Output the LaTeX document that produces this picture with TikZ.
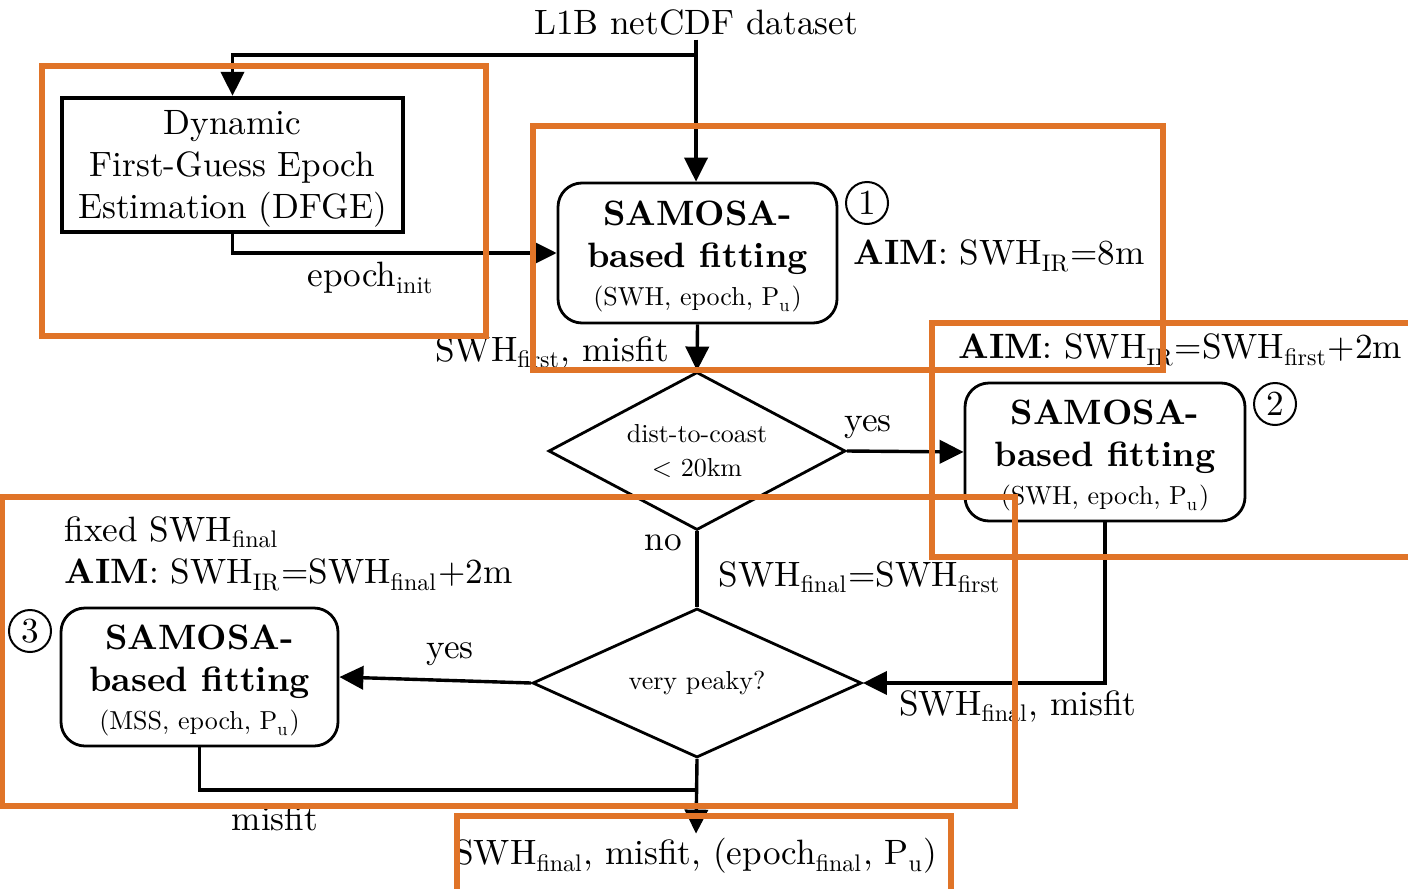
\documentclass[tikz,border=0pt]{standalone}
\usepackage{fontspec}
\setmainfont{lmroman10-regular.otf}[BoldFont=lmroman10-bold.otf, ItalicFont=lmroman10-italic.otf]
\usetikzlibrary{shapes.geometric,arrows.meta}
\definecolor{orng}{HTML}{E07428}
\newcommand{\mainf}{\fontsize{8.8}{10.5}\selectfont}
\newcommand{\smallf}{\fontsize{6.5}{8.3}\selectfont}
\newcommand{\sbs}[1]{\textsubscript{\fontsize{6}{6}\selectfont\raisebox{-0.6pt}{#1}}}
\newcommand{\sbss}[1]{\textsubscript{\fontsize{4.6}{5}\selectfont\raisebox{-0.5pt}{#1}}}
\tikzset{
  txt/.style={font=\mainf, inner sep=1pt},
  dfgebox/.style={draw, line width=1.1pt, font=\mainf, align=center,
    minimum width=85.25pt, minimum height=33.5pt, inner sep=0pt},
  samosa/.style={draw, line width=0.7pt, rounded corners=6pt, font=\mainf, align=center,
    minimum width=69.75pt, minimum height=35pt, inner sep=0pt},
  numcirc/.style={draw, circle, line width=0.5pt, font=\mainf, minimum size=10.5pt, inner sep=0pt},
  dia/.style={draw, diamond, line width=0.7pt, font=\smallf, align=center, inner sep=0pt},
  arr/.style={line width=0.85pt, -{Triangle[length=6pt,width=5.8pt]}},
  ln/.style={line width=0.85pt},
  obox/.style={draw=orng, line width=1.3pt}
}
\begin{document}
\begin{tikzpicture}[x=0.25pt,y=-0.25pt]
\useasboundingbox (0,0) rectangle (1408,888);

% nodes
\node[txt] (src) at (696,22) {L1B netCDF dataset};
\node[dfgebox] (dfge) at (232.5,165) {Dynamic\rule{0pt}{8pt}\\First-Guess Epoch\\Estimation (DFGE)};
\node[samosa] (s1) at (697.5,253) {{\bfseries SAMOSA-}\rule{0pt}{8pt}\\{\bfseries based fitting}\\[-1pt]{\smallf (SWH, epoch, P\sbss{u})}};
\node[numcirc] (c1) at (867,203) {1};
\node[txt, anchor=west] (aim1) at (849,256) {\textbf{AIM}: SWH\sbs{IR}=8m};

\node[dia, aspect=1.88, minimum width=74.25pt, minimum height=39.5pt] (d1) at (697,451) {dist-to-coast\\< 20km};

\node[samosa, minimum width=70pt, minimum height=34.5pt] (s2) at (1105,452) {{\bfseries SAMOSA-}\rule{0pt}{8pt}\\{\bfseries based fitting}\\[-1pt]{\smallf (SWH, epoch, P\sbss{u})}};
\node[numcirc] (c2) at (1275,404) {2};
\node[txt, anchor=east] (aim2) at (1407,350) {\textbf{AIM}: SWH\sbs{IR}=SWH\sbs{first}+2m};

\node[dia, aspect=2.2, minimum width=82.25pt, minimum height=37.25pt] (d2) at (697,683) {very peaky?};

\node[samosa, minimum width=69.25pt, minimum height=34.5pt] (s3) at (199.5,677) {{\bfseries SAMOSA-}\rule{0pt}{8pt}\\{\bfseries based fitting}\\[-1pt]{\smallf (MSS, epoch, P\sbss{u})}};
\node[numcirc] (c3) at (30,631) {3};
\node[txt, anchor=west] (fixed) at (60,532) {fixed SWH\sbs{final}};
\node[txt, anchor=west] (aim3) at (60,575) {\textbf{AIM}: SWH\sbs{IR}=SWH\sbs{final}+2m};

\node[txt] (out) at (696,856) {SWH\sbs{final}, misfit, (epoch\sbs{final}, P\sbs{u})};

% edge labels
\node[txt] (lepoch) at (371,278) {epoch\sbs{init}};
\node[txt] (lfirst) at (552,352) {SWH\sbs{first}, misfit};
\node[txt] (lyes1) at (868,427) {yes};
\node[txt] (lno) at (663,543) {no};
\node[txt] (leq) at (860,577) {SWH\sbs{final}=SWH\sbs{first}};
\node[txt] (lfinal) at (1018,706) {SWH\sbs{final}, misfit};
\node[txt] (lyes2) at (450,654) {yes};
\node[txt] (lmis) at (275,818) {misfit};

% connectors
\coordinate (split) at (696,55);
\coordinate (merge) at (697,790);
\draw[arr] (src.south) -- (src.south |- s1.north);
\draw[arr] (split) -| (dfge.north);
\draw[arr] (dfge.south) |- (s1.west);
\draw[arr] (s1.south) -- (d1.north);
\draw[arr] (d1.east) -- (s2.west);
\draw[arr] (s2.south) |- (d2.east);
\draw[ln] (d1.south) -- (d2.north);
\draw[arr] (d2.west) -- (s3.east);
\draw[arr] (d2.south) -- (out.north);
\draw[ln] (s3.south) |- (merge);

% orange annotation boxes
\draw[obox] (42,66) rectangle (486,336);
\draw[obox] (533,126) rectangle (1163,370);
\draw[obox] (932,323) rectangle (1414,557);
\draw[obox] (2,497) rectangle (1015,806);
\draw[obox] (457,816) rectangle (951,894);
\end{tikzpicture}
\end{document}
